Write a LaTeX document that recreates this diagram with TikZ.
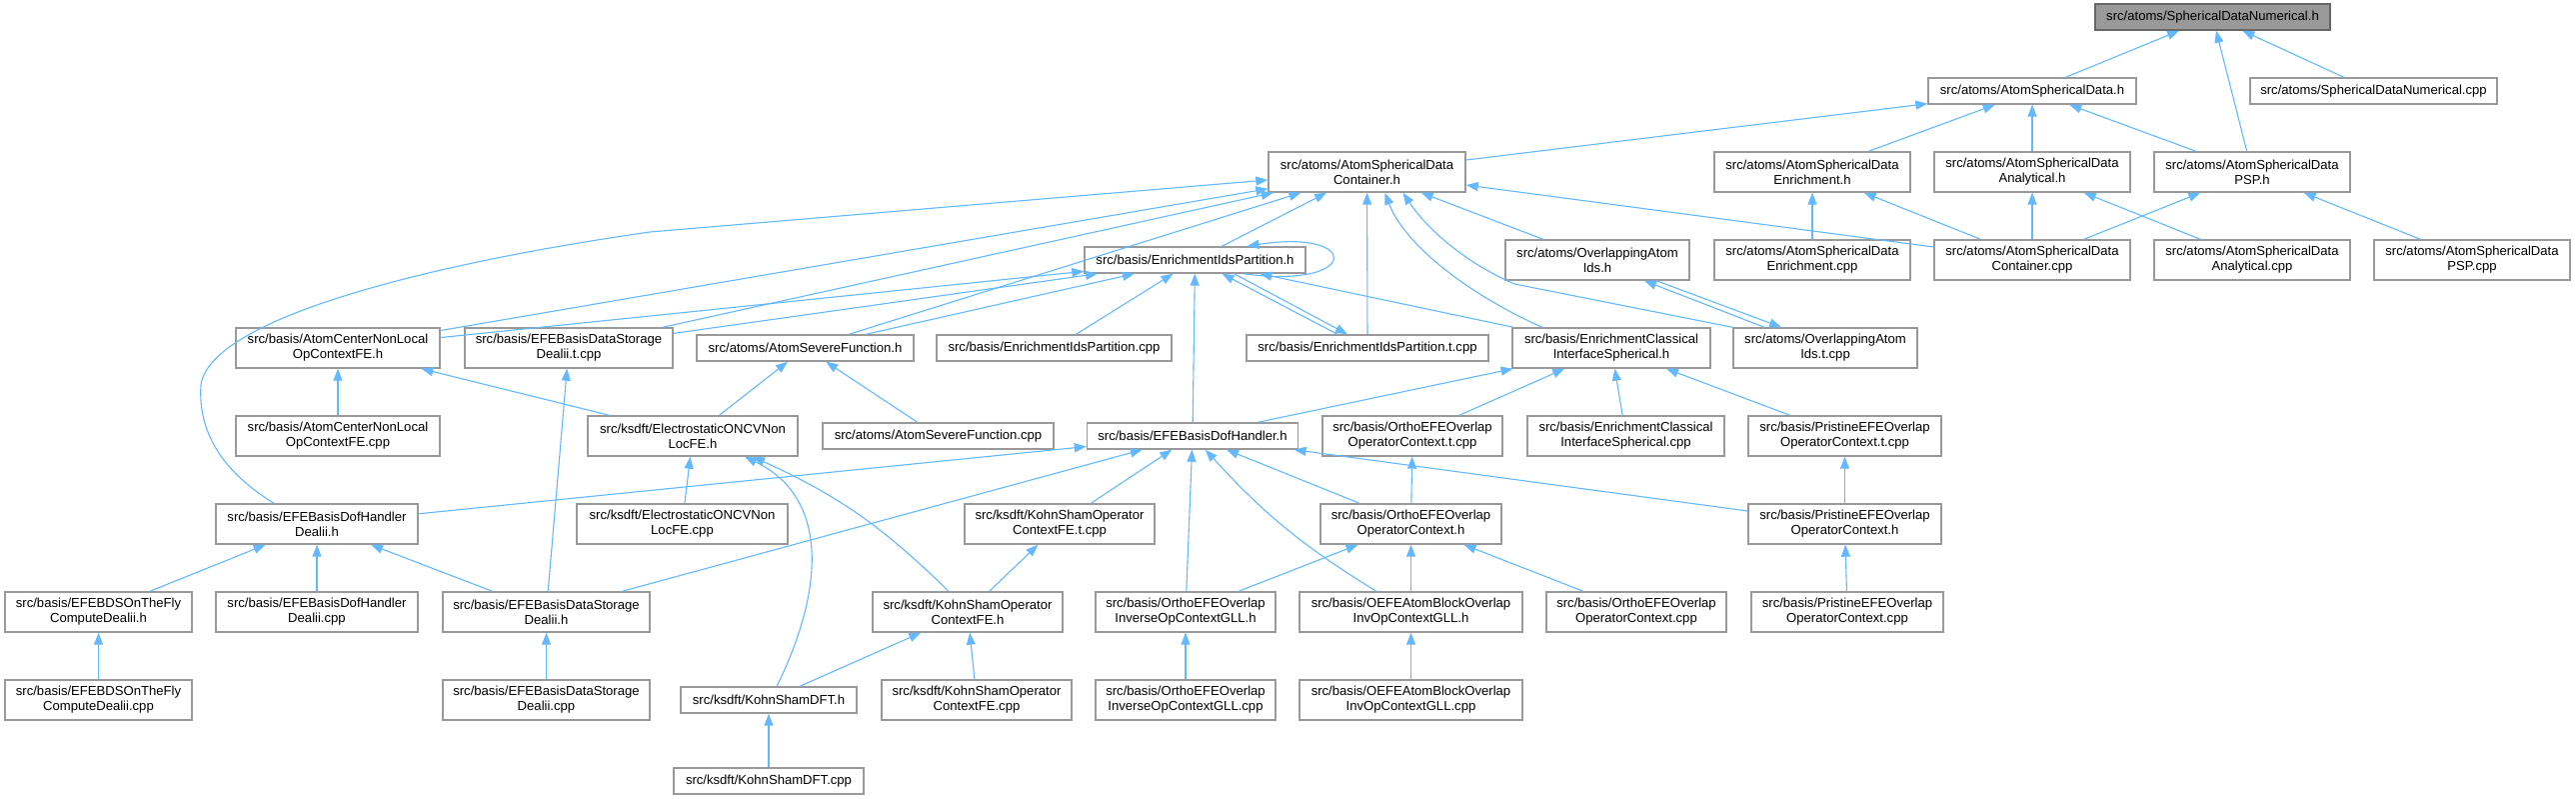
\documentclass[tikz,border=0pt]{standalone}
\usepackage{fontspec}
\setsansfont{Liberation Sans}
\usetikzlibrary{
  arrows.meta,
  positioning
}
\definecolor{depline}{RGB}{99,184,255}
\definecolor{boxline}{RGB}{153,153,153}
\definecolor{rootfill}{RGB}{153,153,153}
\definecolor{rootline}{RGB}{102,102,102}

\begin{document}
\begin{tikzpicture}[
  x=1pt, y=-1pt,
  every node/.style={font=\sffamily\fontsize{13.1}{15}\selectfont},
  incfile/.style={draw=boxline, line width=1.4pt, fill=white, inner sep=0pt,
                  minimum height=26pt, align=center},
  incfile2/.style={incfile, minimum height=40pt},
  rootfile/.style={incfile, fill=rootfill, draw=rootline},
  dep/.style={draw=depline, line width=1.1pt,
              -{Triangle[length=12pt, width=9pt]}},
]
\useasboundingbox (0,0) rectangle (2577,799);

\node[rootfile, minimum width=235pt] (sdnh) at (2213.5,17) {src/atoms/SphericalDataNumerical.h};

\node[incfile, minimum width=208pt] (asdh) at (2033,91) {src/atoms/AtomSphericalData.h};
\node[incfile, minimum width=247pt] (sdncpp) at (2374.5,91) {src/atoms/SphericalDataNumerical.cpp};

\node[incfile2, minimum width=197pt] (asdch) at (1367.5,172) {src/atoms/AtomSphericalData\\Container.h};
\node[incfile2, minimum width=196pt] (asdeh) at (1813,172) {src/atoms/AtomSphericalData\\Enrichment.h};
\node[incfile2, minimum width=196pt] (asdah) at (2033,172) {src/atoms/AtomSphericalData\\Analytical.h};
\node[incfile2, minimum width=196pt] (asdph) at (2253,172) {src/atoms/AtomSphericalData\\PSP.h};

\node[incfile, minimum width=221pt] (eiph) at (1195.5,260) {src/basis/EnrichmentIdsPartition.h};
\node[incfile2, minimum width=184pt] (oaih) at (1598,260) {src/atoms/OverlappingAtom\\Ids.h};
\node[incfile2, minimum width=196pt] (asdecpp) at (1813,260) {src/atoms/AtomSphericalData\\Enrichment.cpp};
\node[incfile2, minimum width=196pt] (asdccpp) at (2033,260) {src/atoms/AtomSphericalData\\Container.cpp};
\node[incfile2, minimum width=196pt] (asdacpp) at (2253,260) {src/atoms/AtomSphericalData\\Analytical.cpp};
\node[incfile2, minimum width=196pt] (asdpcpp) at (2473,260) {src/atoms/AtomSphericalData\\PSP.cpp};

\node[incfile2, minimum width=204pt] (acnlh) at (338,348) {src/basis/AtomCenterNonLocal\\OpContextFE.h};
\node[incfile2, minimum width=208pt] (efebdstcpp) at (569,348) {src/basis/EFEBasisDataStorage\\Dealii.t.cpp};
\node[incfile, minimum width=217pt] (asfh) at (805.5,348) {src/atoms/AtomSevereFunction.h};
\node[incfile, minimum width=235pt] (eipcpp) at (1054.5,348) {src/basis/EnrichmentIdsPartition.cpp};
\node[incfile, minimum width=242pt] (eiptcpp) at (1368,348) {src/basis/EnrichmentIdsPartition.t.cpp};
\node[incfile2, minimum width=198pt] (ecish) at (1612,348) {src/basis/EnrichmentClassical\\InterfaceSpherical.h};
\node[incfile2, minimum width=184pt] (oaitcpp) at (1826,348) {src/atoms/OverlappingAtom\\Ids.t.cpp};

\node[incfile2, minimum width=204pt] (acnlcpp) at (338,436) {src/basis/AtomCenterNonLocal\\OpContextFE.cpp};
\node[incfile2, minimum width=210pt] (eoncvh) at (693,436) {src/ksdft/ElectrostaticONCVNon\\LocFE.h};
\node[incfile, minimum width=231pt] (asfcpp) at (938.5,436) {src/atoms/AtomSevereFunction.cpp};
\node[incfile, minimum width=211pt] (efebdhh) at (1193,436) {src/basis/EFEBasisDofHandler.h};
\node[incfile2, minimum width=180pt] (oeoctcpp) at (1413,436) {src/basis/OrthoEFEOverlap\\OperatorContext.t.cpp};
\node[incfile2, minimum width=197pt] (eciscpp) at (1626.5,436) {src/basis/EnrichmentClassical\\InterfaceSpherical.cpp};
\node[incfile2, minimum width=193pt] (peoctcpp) at (1845.5,436) {src/basis/PristineEFEOverlap\\OperatorContext.t.cpp};

\node[incfile2, minimum width=202pt] (efebdhdh) at (317,524) {src/basis/EFEBasisDofHandler\\Dealii.h};
\node[incfile2, minimum width=211pt] (eoncvcpp) at (682.5,524) {src/ksdft/ElectrostaticONCVNon\\LocFE.cpp};
\node[incfile2, minimum width=190pt] (ksoctcpp) at (1060,524) {src/ksdft/KohnShamOperator\\ContextFE.t.cpp};
\node[incfile2, minimum width=181pt] (oeoch) at (1411.5,524) {src/basis/OrthoEFEOverlap\\OperatorContext.h};
\node[incfile2, minimum width=193pt] (peoch) at (1845.5,524) {src/basis/PristineEFEOverlap\\OperatorContext.h};

\node[incfile2, minimum width=187pt] (otfh) at (98.5,612) {src/basis/EFEBDSOnTheFly\\ComputeDealii.h};
\node[incfile2, minimum width=202pt] (efebdhdcpp) at (317,612) {src/basis/EFEBasisDofHandler\\Dealii.cpp};
\node[incfile2, minimum width=207pt] (efebdsdh) at (546.5,612) {src/basis/EFEBasisDataStorage\\Dealii.h};
\node[incfile2, minimum width=190pt] (ksoch) at (968,612) {src/ksdft/KohnShamOperator\\ContextFE.h};
\node[incfile2, minimum width=180pt] (oeioh) at (1186,612) {src/basis/OrthoEFEOverlap\\InverseOpContextGLL.h};
\node[incfile2, minimum width=223pt] (oeabh) at (1411.5,612) {src/basis/OEFEAtomBlockOverlap\\InvOpContextGLL.h};
\node[incfile2, minimum width=180pt] (oeoccpp) at (1637,612) {src/basis/OrthoEFEOverlap\\OperatorContext.cpp};
\node[incfile2, minimum width=192pt] (peoccpp) at (1848,612) {src/basis/PristineEFEOverlap\\OperatorContext.cpp};

\node[incfile2, minimum width=187pt] (otfcpp) at (98.5,700) {src/basis/EFEBDSOnTheFly\\ComputeDealii.cpp};
\node[incfile2, minimum width=207pt] (efebdsdcpp) at (546.5,700) {src/basis/EFEBasisDataStorage\\Dealii.cpp};
\node[incfile, minimum width=176pt] (kshdfth) at (769,700) {src/ksdft/KohnShamDFT.h};
\node[incfile2, minimum width=190pt] (ksoccpp) at (977,700) {src/ksdft/KohnShamOperator\\ContextFE.cpp};
\node[incfile2, minimum width=180pt] (oeiocpp) at (1186,700) {src/basis/OrthoEFEOverlap\\InverseOpContextGLL.cpp};
\node[incfile2, minimum width=223pt] (oeabcpp) at (1411.5,700) {src/basis/OEFEAtomBlockOverlap\\InvOpContextGLL.cpp};

\node[incfile, minimum width=190pt] (kshdftcpp) at (769,781) {src/ksdft/KohnShamDFT.cpp};

\draw[dep] (asdh) -- (sdnh);
\draw[dep] (asdph) -- (sdnh);
\draw[dep] (sdncpp) -- (sdnh);
\draw[dep] (asdch) -- (asdh);
\draw[dep] (asdeh) -- (asdh);
\draw[dep] (asdah) -- (asdh);
\draw[dep] (asdph) -- (asdh);

\draw[dep] (eiph) -- (asdch);
\draw[dep] (acnlh) -- (asdch);
\draw[dep] (efebdstcpp) -- (asdch);
\draw[dep] (asfh) -- (asdch);
\draw[dep] ([xshift=-43pt]efebdhdh.north) .. controls (220,470) and (198,430) .. (201,385)
  .. controls (210,320) and (420,265) .. (650,232) -- ([yshift=-8pt]asdch.west);
\draw[dep] (eiptcpp) -- (asdch);
\draw[dep] ([xshift=-69pt]ecish.north) .. controls (1470,295) and (1405,245) .. ([xshift=18pt]asdch.south);
\draw[dep] (oaih) -- (asdch);
\draw[dep] (oaitcpp.north west) -- (1515,284) .. controls (1460,260) and (1425,225) .. ([xshift=36pt]asdch.south);
\draw[dep] (asdccpp) -- (asdch);

\draw[dep] ([xshift=48pt]eiph.south) .. controls (1362,290) and (1362,228) .. ([xshift=52pt]eiph.north);
\draw[dep] (acnlh) -- (eiph);
\draw[dep] (efebdstcpp) -- (eiph);
\draw[dep] (asfh) -- (eiph);
\draw[dep] (eipcpp) -- (eiph);
\draw[dep] (efebdhh) -- (eiph);
\draw[dep] ([xshift=-30pt]eiptcpp.north) -- ([xshift=27pt]eiph.south);
\draw[dep] ([xshift=39pt]eiph.south) -- ([xshift=-20pt]eiptcpp.north);
\draw[dep] (ecish) -- (eiph);

\draw[dep] ([xshift=-61pt]oaitcpp.north) -- ([xshift=47pt]oaih.south);
\draw[dep] ([xshift=59pt]oaih.south) -- ([xshift=-44pt]oaitcpp.north);
\draw[dep] (asdecpp) -- (asdeh);
\draw[dep] (asdccpp) -- (asdeh);
\draw[dep] (asdccpp) -- (asdah);
\draw[dep] (asdacpp) -- (asdah);
\draw[dep] (asdccpp) -- (asdph);
\draw[dep] (asdpcpp) -- (asdph);

\draw[dep] (acnlcpp) -- (acnlh);
\draw[dep] (eoncvh) -- (acnlh);
\draw[dep] (efebdsdh) -- (efebdstcpp);
\draw[dep] (eoncvh) -- (asfh);
\draw[dep] (asfcpp) -- (asfh);
\draw[dep] (efebdhh) -- (ecish);
\draw[dep] (oeoctcpp) -- (ecish);
\draw[dep] (eciscpp) -- (ecish);
\draw[dep] (peoctcpp) -- (ecish);

\draw[dep] (efebdhdh) -- (efebdhh);
\draw[dep] (efebdsdh) -- (efebdhh);
\draw[dep] (ksoctcpp) -- (efebdhh);
\draw[dep] (oeioh) -- (efebdhh);
\draw[dep] (oeabh) to[bend left=8] (efebdhh);
\draw[dep] (oeoch) -- (efebdhh);
\draw[dep] (peoch) -- (efebdhh);

\draw[dep] (eoncvcpp) -- (eoncvh);
\draw[dep] ([xshift=8pt]kshdfth.north) .. controls (820,600) and (835,500) .. ([xshift=52pt]eoncvh.south);
\draw[dep] ([xshift=-19pt]ksoch.north) to[bend right=10] ([xshift=60pt]eoncvh.south);
\draw[dep] (ksoch) -- (ksoctcpp);
\draw[dep] (oeoch) -- (oeoctcpp);
\draw[dep] (peoch) -- (peoctcpp);

\draw[dep] (otfh) -- (efebdhdh);
\draw[dep] (efebdhdcpp) -- (efebdhdh);
\draw[dep] (efebdsdh) -- (efebdhdh);
\draw[dep] (kshdfth) -- (ksoch);
\draw[dep] (ksoccpp) -- (ksoch);
\draw[dep] (oeioh) -- (oeoch);
\draw[dep] (oeabh) -- (oeoch);
\draw[dep] (oeoccpp) -- (oeoch);
\draw[dep] (peoccpp) -- (peoch);

\draw[dep] (otfcpp) -- (otfh);
\draw[dep] (efebdsdcpp) -- (efebdsdh);
\draw[dep] (kshdftcpp) -- (kshdfth);
\draw[dep] (oeiocpp) -- (oeioh);
\draw[dep] (oeabcpp) -- (oeabh);

\end{tikzpicture}
\end{document}
